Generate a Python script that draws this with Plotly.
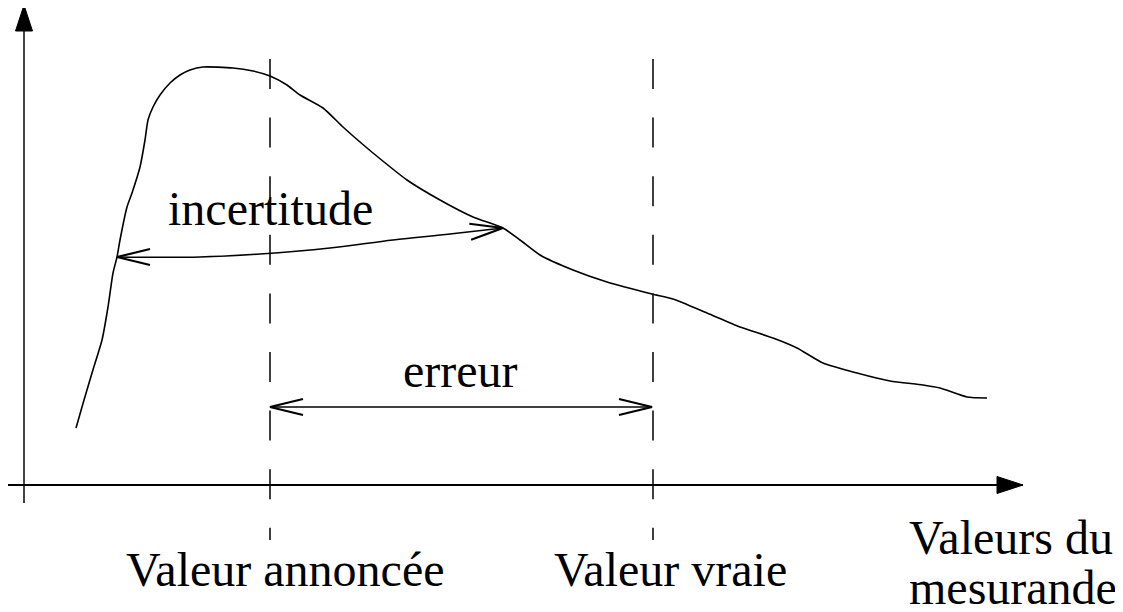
import math

import plotly.graph_objects as go

# pixel-like coordinate frame (x to the right, y downward)
W, H = 1123, 612
PAGE_OFFSET = 8  # default body margin of the html page

# measured curve (distribution of measured values)
curve_x = [76, 84, 92, 102, 108, 113, 117, 120, 127, 132, 140, 145, 148, 153, 160, 170, 180,
           190, 203, 233, 253, 270, 287, 300, 323, 343, 360, 373, 407, 440, 473, 503, 520,
           540, 573, 607, 652, 673, 707, 740, 773, 797, 823, 857, 890, 923, 940, 967, 987]
curve_y = [428, 400, 373, 340, 307, 273, 257, 240, 207, 193, 167, 140, 120, 107, 95, 83, 75,
           70, 67, 68, 71, 76, 85, 95, 108, 127, 142, 153, 180, 200, 217, 228, 240,
           255, 270, 282, 294, 299, 313, 327, 338, 348, 363, 373, 381, 385, 388, 397, 398]

# reference values (dashed verticals)
ref_x = [270, 653]
ref_y = [59, 540]

# double arrows
incert_x = [117, 200, 260, 330, 393, 450, 503]
incert_y = [257, 257, 254, 248, 240, 234, 228]
erreur_x = [270, 652]
erreur_y = [407, 407]

# axes
yaxis_x = [24, 24]
yaxis_y = [503, 5]
xaxis_x = [8, 1023]
xaxis_y = [485, 485]

labels = ["incertitude", "erreur", "Valeur annoncée", "Valeur vraie", "Valeurs du", "mesurande"]
label_x = [270, 460, 285, 670, 907, 907]
label_y = [208, 370, 569, 569, 537, 587]

FONT = dict(family="Liberation Serif, Times New Roman, serif", size=48, color="black")

fig = go.Figure()

fig.add_trace(go.Scatter(x=curve_x, y=curve_y, mode="lines",
                         line=dict(color="black", width=1.6, shape="spline", smoothing=0.6),
                         hoverinfo="skip"))

for rx in ref_x:
    fig.add_trace(go.Scatter(x=[rx, rx], y=ref_y, mode="lines",
                             line=dict(color="black", width=1.5, dash="30px,28.6px"),
                             hoverinfo="skip"))

fig.add_trace(go.Scatter(x=incert_x, y=incert_y, mode="lines",
                         line=dict(color="black", width=1.6, shape="spline"), hoverinfo="skip"))
fig.add_trace(go.Scatter(x=erreur_x, y=erreur_y, mode="lines",
                         line=dict(color="black", width=1.6), hoverinfo="skip"))

fig.add_trace(go.Scatter(x=yaxis_x, y=yaxis_y, mode="lines",
                         line=dict(color="#444", width=2), hoverinfo="skip"))
fig.add_trace(go.Scatter(x=xaxis_x, y=xaxis_y, mode="lines",
                         line=dict(color="black", width=2), hoverinfo="skip"))


def open_head(x0, y0, x1, y1, length=33, half=8):
    """Open '<' head at (x1, y1), pointing away from (x0, y0)."""
    a = math.atan2(y1 - y0, x1 - x0)
    bx, by = x1 - length * math.cos(a), y1 - length * math.sin(a)
    px, py = -math.sin(a) * half, math.cos(a) * half
    return f"M{bx + px},{by + py} L{x1},{y1} L{bx - px},{by - py}"


def filled_head(x0, y0, x1, y1, length=26, half=8.5):
    a = math.atan2(y1 - y0, x1 - x0)
    bx, by = x1 - length * math.cos(a), y1 - length * math.sin(a)
    px, py = -math.sin(a) * half, math.cos(a) * half
    return f"M{bx + px},{by + py} L{x1},{y1} L{bx - px},{by - py} Z"


shapes = []
for xs, ys in [(incert_x, incert_y), (erreur_x, erreur_y)]:
    for p in (open_head(xs[1], ys[1], xs[0], ys[0]), open_head(xs[-2], ys[-2], xs[-1], ys[-1])):
        shapes.append(dict(type="path", path=p, xref="x", yref="y",
                           line=dict(color="black", width=2.2)))
for xs, ys in [(yaxis_x, yaxis_y), (xaxis_x, xaxis_y)]:
    shapes.append(dict(type="path", path=filled_head(xs[0], ys[0], xs[1], ys[1]),
                       xref="x", yref="y", fillcolor="black", line=dict(color="black", width=1)))

annotations = []
for i, t in enumerate(labels):
    left = i >= 4
    annotations.append(dict(text=t, x=label_x[i], y=label_y[i], xref="x", yref="y",
                            showarrow=False, font=FONT,
                            xanchor="left" if left else "center", yanchor="middle"))

# shift ranges so that data coordinates land on window pixels despite the page margin
fig.update_layout(
    width=W, height=H,
    margin=dict(l=0, r=0, t=0, b=0),
    paper_bgcolor="white", plot_bgcolor="white",
    showlegend=False,
    xaxis=dict(range=[PAGE_OFFSET, W + PAGE_OFFSET], visible=False, fixedrange=True),
    yaxis=dict(range=[H + PAGE_OFFSET, PAGE_OFFSET], visible=False, fixedrange=True),
    shapes=shapes,
    annotations=annotations,
)

fig.write_html("out.html")
